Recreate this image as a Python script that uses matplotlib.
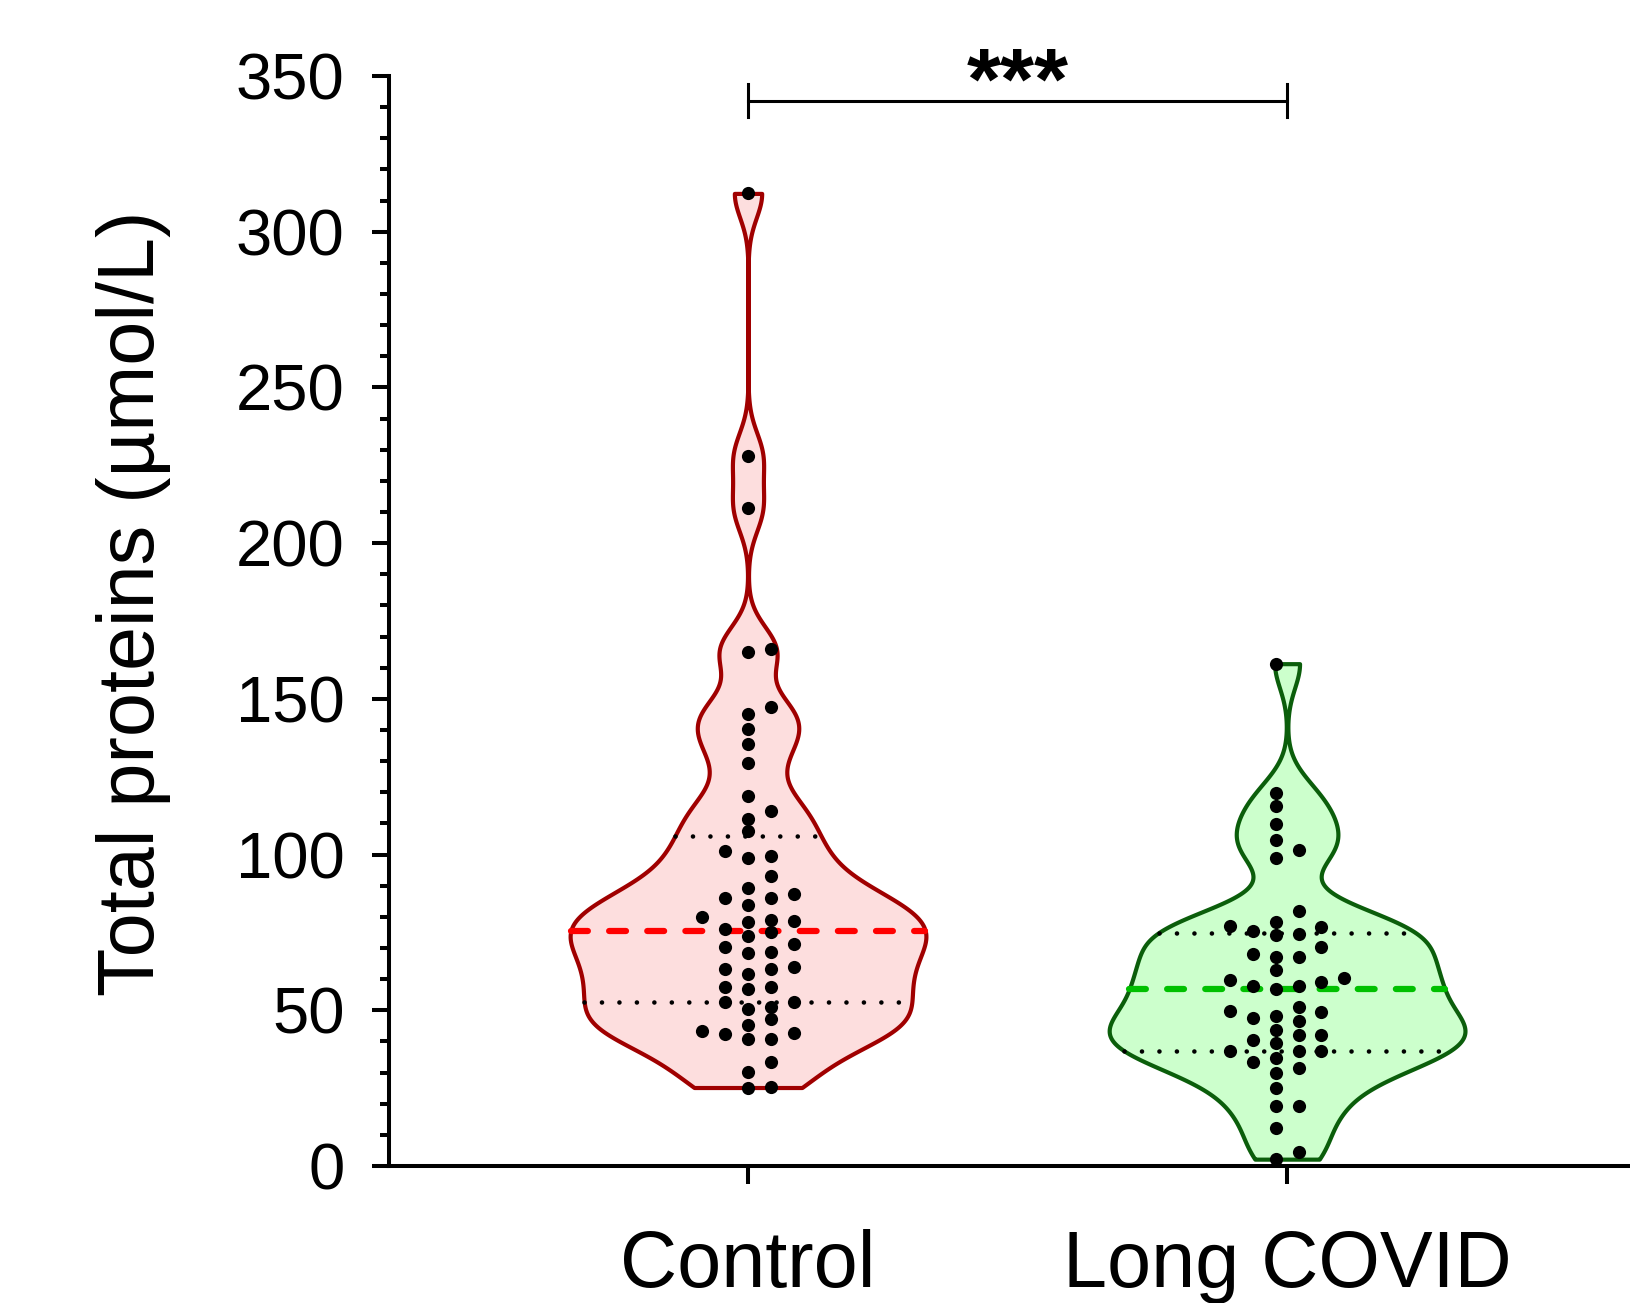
import numpy as np
import matplotlib
matplotlib.use("Agg")
import matplotlib.pyplot as plt

plt.rcParams['font.family'] = ['Liberation Sans', 'DejaVu Sans']

# values (umol/L)
groups = ['Control', 'Long COVID']
control = [312.3, 228.0, 211.3, 165.9, 165.2, 147.5, 145.1, 140.3, 135.5, 129.3,
           118.7, 113.9, 111.4, 107.6, 101.2, 99.6, 98.8, 93.0, 89.2, 87.5,
           86.2, 85.9, 83.9, 79.8, 79.0, 78.7, 78.2, 76.1, 75.0, 73.7,
           71.2, 70.2, 68.8, 68.5, 64.0, 63.4, 63.4, 61.6, 57.6, 57.6,
           56.8, 52.7, 52.7, 51.1, 50.3, 47.1, 45.2, 43.2, 42.6, 42.5,
           40.9, 40.9, 33.5, 30.3, 25.5, 25.2]
long_covid = [161.3, 119.8, 115.6, 109.7, 104.8, 101.5, 98.8, 81.8, 78.2, 77.1,
              76.9, 75.5, 74.4, 74.1, 70.4, 68.0, 67.1, 67.1, 63.0, 60.5,
              59.7, 59.2, 57.7, 57.7, 56.9, 50.9, 49.7, 49.4, 48.1, 47.5,
              46.4, 43.7, 42.2, 42.2, 40.4, 39.5, 37.0, 37.0, 37.0, 34.8,
              33.5, 31.5, 29.8, 25.2, 19.3, 19.3, 12.3, 4.6, 2.2]
y_ticks = [0, 50, 100, 150, 200, 250, 300, 350]
sig_label = '***'


def density(vals, grid, bw=7.8):
    d = (grid[:, None] - vals[None, :]) / bw
    return np.exp(-0.5 * d ** 2).sum(axis=1)


def swarm_offsets(vals, odd, step=0.0425, min_gap=3.8):
    """greedy column placement like prism's scatter"""
    if odd:
        cols = [0, 1, -1, 2, -2, 3, -3, 4, -4]
    else:
        cols = [-0.5, 0.5, -1.5, 1.5, -2.5, 2.5, -3.5, 3.5]
    offs = np.zeros(len(vals))
    placed = {}
    for i in np.argsort(vals):
        y = vals[i]
        for c in cols:
            if all(abs(y - q) >= min_gap for q in placed.get(c, [])):
                placed.setdefault(c, []).append(y)
                offs[i] = c * step
                break
    return offs


fig = plt.figure(figsize=(16.31, 13.03), dpi=100)
ax = fig.add_axes([389 / 1631, 137 / 1303, 1 - 389 / 1631, 1090 / 1303])

styles = [
    # face, edge, median colour, odd columns
    ('#fddede', '#a00000', '#ff0000', True),
    ('#ccffcc', '#0b5e0b', '#00c000', False),
]

for pos, vals, (face, edge, mcol, odd) in zip([1, 2], [control, long_covid], styles):
    vals = np.array(vals)
    grid = np.linspace(vals.min(), vals.max(), 600)
    dens = density(vals, grid)
    w = dens / dens.max() * 0.33
    ax.fill_betweenx(grid, pos - w, pos + w, facecolor=face, edgecolor=edge,
                     linewidth=3.0, joinstyle='round', zorder=2)

    q1, med, q3 = np.percentile(vals, [25, 50, 75], method='weibull')
    wm = np.interp(med, grid, w)
    ax.plot([pos - wm, pos + wm], [med, med], color=mcol, lw=4.5,
            ls=(0, (2.7, 3.4)), dash_capstyle='round', zorder=3)
    for q in (q1, q3):
        wq = np.interp(q, grid, w)
        ax.plot([pos - wq, pos + wq], [q, q], color='black', lw=3.3,
                ls=(0, (0.01, 3.8)), dash_capstyle='round', zorder=3)

    offs = swarm_offsets(vals, odd)
    ax.scatter(pos + offs, vals, s=90, color='black', linewidths=0, zorder=4)

# significance bracket
bar_y = 342
ax.plot([1, 2], [bar_y, bar_y], color='black', lw=2.2, zorder=5)
ax.plot([1, 1], [bar_y - 5.3, bar_y + 5.3], color='black', lw=2.2, zorder=5)
ax.plot([2, 2], [bar_y - 5.3, bar_y + 5.3], color='black', lw=2.2, zorder=5)
ax.text(1.5, 339.5, sig_label, ha='center', va='baseline', fontsize=63,
        fontweight='bold', clip_on=False)

ax.set_ylim(0, 350)
ax.set_xlim(0.334, 2.638)
ax.set_yticks(y_ticks)
ax.set_yticks(np.arange(0, 351, 10), minor=True)
ax.set_xticks([1, 2])
ax.set_xticklabels(groups)

for side in ['top', 'right']:
    ax.spines[side].set_visible(False)
for side in ['left', 'bottom']:
    ax.spines[side].set_linewidth(2.9)

ax.tick_params(axis='y', which='major', length=12, width=2.9, pad=20, labelsize=47)
ax.tick_params(axis='y', which='minor', length=6.7, width=2.9)
ax.tick_params(axis='x', which='major', length=12.7, width=2.9, pad=33, labelsize=57)
ax.tick_params(axis='x', which='minor', bottom=False)

fig.text(96 / 1631, 0.537, 'Total proteins (µmol/L)', rotation=90,
         ha='left', va='center', fontsize=57)

fig.savefig('out.png', dpi=100)
